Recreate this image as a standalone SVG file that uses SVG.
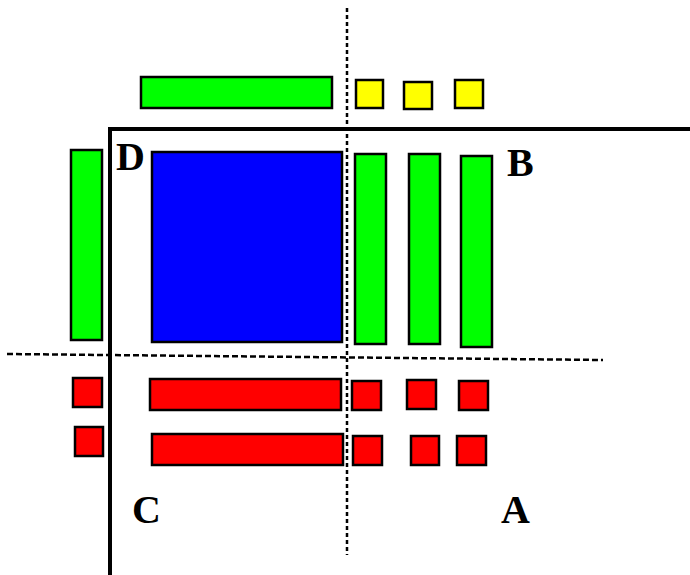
<svg xmlns="http://www.w3.org/2000/svg" width="690" height="575" viewBox="0 0 690 575">
<style>
.b{stroke:#000;stroke-width:2.5}
.g{fill:#00ff00}
.y{fill:#ffff00}
.r{fill:#ff0000}
.bl{fill:#0000ff}
.d{stroke:#000;stroke-width:2.5;stroke-dasharray:4 3;fill:none}
.dh{stroke:#000;stroke-width:2.5;stroke-dasharray:6 3;fill:none}
.ax{stroke:#000;stroke-width:4;fill:none}
.t{font-family:"Liberation Serif",serif;font-weight:bold;font-size:40px;fill:#000}
</style>
<rect width="690" height="575" fill="#fff"/>
<g id="connectors">
<path class="ax" d="M110,575 V129 H690"/>
<path class="d" d="M347,8 V555"/>
<path class="dh" d="M7,354 L603,360"/>
</g>
<g id="top-bar"><rect class="b g" x="141" y="77" width="191" height="31"/></g>
<g id="yellow"><rect class="b y" x="356" y="80" width="27" height="28"/><rect class="b y" x="404" y="82" width="28" height="27"/><rect class="b y" x="455" y="80" width="28" height="28"/></g>
<g id="left-bar"><rect class="b g" x="71" y="150" width="31" height="190"/></g>
<g id="blue"><rect class="b bl" x="152" y="152" width="190" height="190"/></g>
<g id="green-cols"><rect class="b g" x="355" y="154" width="31" height="190"/><rect class="b g" x="409" y="154" width="31" height="190"/><rect class="b g" x="461" y="156" width="31" height="191"/></g>
<g id="red-left"><rect class="b r" x="73" y="378" width="29" height="29"/><rect class="b r" x="75" y="427" width="28" height="29"/></g>
<g id="red-bars"><rect class="b r" x="150" y="379" width="191" height="31"/><rect class="b r" x="152" y="434" width="191" height="31"/></g>
<g id="red-squares"><rect class="b r" x="352" y="381" width="29" height="29"/><rect class="b r" x="407" y="380" width="29" height="29"/><rect class="b r" x="459" y="381" width="29" height="29"/><rect class="b r" x="353" y="436" width="29" height="29"/><rect class="b r" x="411" y="436" width="28" height="29"/><rect class="b r" x="457" y="436" width="29" height="29"/></g>
<g id="labels">
<text class="t" x="116" y="170">D</text>
<text class="t" x="507" y="176">B</text>
<text class="t" x="132" y="523">C</text>
<text class="t" x="501" y="523">A</text>
</g>
</svg>
